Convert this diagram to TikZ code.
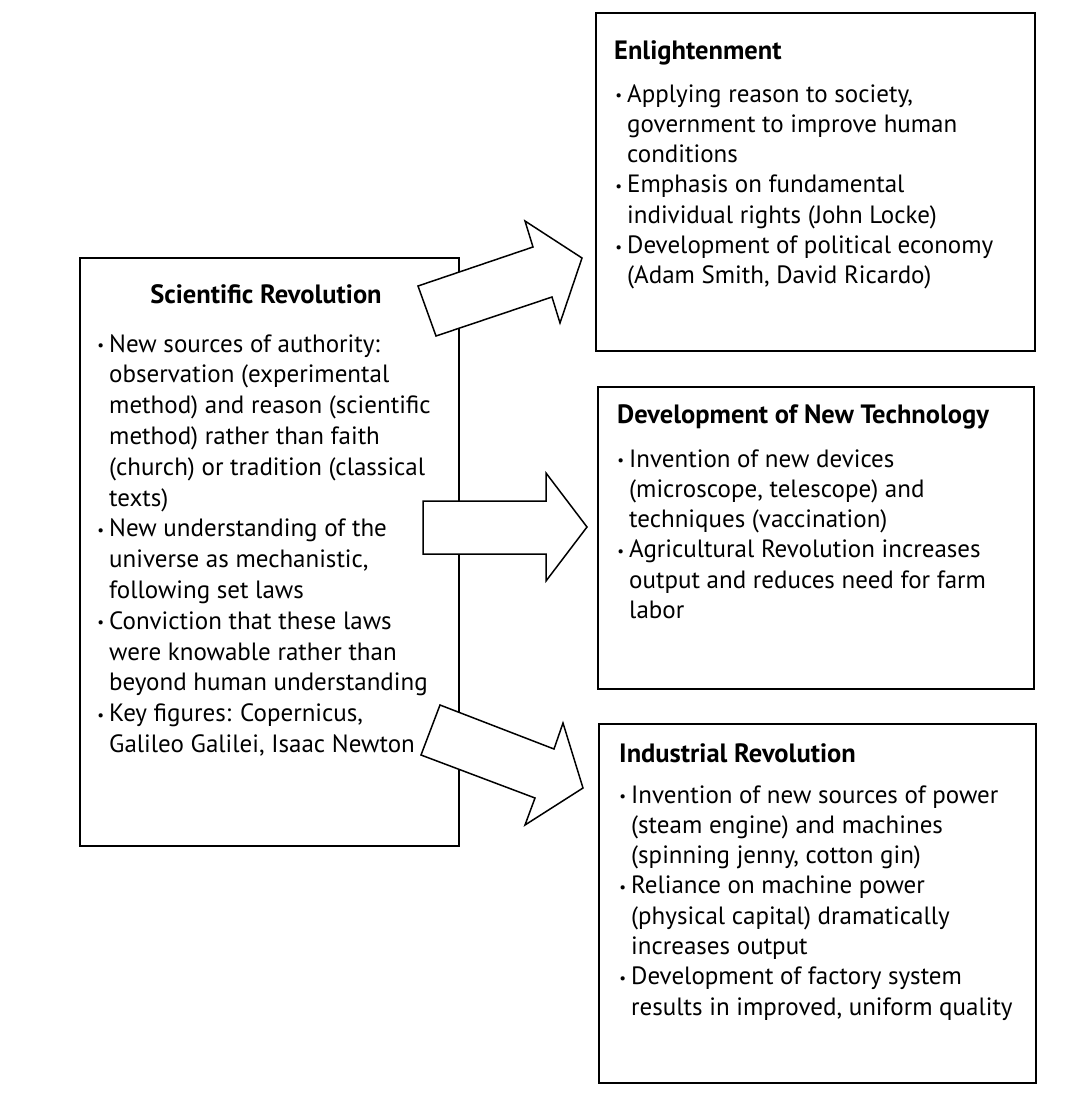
\documentclass[tikz,border=0pt]{standalone}
\usepackage{fontspec}
\setmainfont{PT Sans}
\begin{document}
\begin{tikzpicture}[x=1pt,y=-1pt,
  box/.style={draw=black,line width=1.6pt,fill=none,rectangle,inner sep=0pt,anchor=north west},
  blockarrow/.style={draw=black,line width=1.5pt,fill=white,line join=miter},
  ttl/.style={inner sep=0pt,anchor=base west,font=\fontsize{26.5}{30}\selectfont\bfseries},
  txt/.style={inner sep=0pt,anchor=base west},
]
\newcommand{\bul}{\leavevmode\llap{\raisebox{1.5pt}{\fontsize{15}{15}\selectfont\textbullet}\hspace{5pt}}}
\newcommand{\rtext}[1]{\parbox[t]{420pt}{\fontsize{25}{30.3}\selectfont\raggedright #1}}
\newcommand{\ltext}[1]{\parbox[t]{380pt}{\fontsize{25}{30.8}\selectfont\raggedright #1}}
\useasboundingbox (0,0) rectangle (1078,1120);
\fill[white] (0,0) rectangle (1078,1120);

% boxes
\node[box,minimum width=379pt,minimum height=588pt] (sci) at (79,257) {};
\node[box,minimum width=439pt,minimum height=338pt] (enl) at (595,12) {};
\node[box,minimum width=436pt,minimum height=302pt] (tech) at (597,386) {};
\node[box,minimum width=437pt,minimum height=359pt] (ind) at (598,723) {};

% arrows
\coordinate (a1) at (436,336);
\draw[blockarrow] (a1) -- (418,286) -- (533,247) -- (525,221) -- (582,258) -- (560,323) -- (552,297) -- cycle;
\coordinate (a2) at (423,501);
\draw[blockarrow] (a2) -- (546,501) -- (546,473) -- (587,527) -- (546,581) -- (546,554) -- (423,554) -- cycle;
\coordinate (a3) at (440,705);
\draw[blockarrow] (a3) -- (554,749) -- (563,723) -- (583,788) -- (525,825) -- (535,798) -- (421,755) -- cycle;

% left box text
\node[inner sep=0pt,anchor=base,font=\fontsize{26.5}{30}\selectfont\bfseries] (sciT) at (266,303) {Scientific Revolution};
\node[txt] (sciB) at (109,352) {\ltext{%
\bul New sources of authority:\\
observation (experimental\\
method) and reason (scientific\\
method) rather than faith\\
(church) or tradition (classical\\
texts)\\
\bul New understanding of the\\
universe as mechanistic,\\
following set laws\\
\bul Conviction that these laws\\
were knowable rather than\\
beyond human understanding\\
\bul Key figures: Copernicus,\\
Galileo Galilei, Isaac Newton}};

% enlightenment
\node[ttl] (enlT) at (614,59) {Enlightenment};
\node[txt] (enlB) at (627,102) {\rtext{%
\bul Applying reason to society,\\
government to improve human\\
conditions\\
\bul Emphasis on fundamental\\
individual rights (John Locke)\\
\bul Development of political economy\\
(Adam Smith, David Ricardo)}};

% technology
\node[ttl] (techT) at (617,423) {Development of New Technology};
\node[txt] (techB) at (629,467) {\rtext{%
\bul Invention of new devices\\
(microscope, telescope) and\\
techniques (vaccination)\\
\bul Agricultural Revolution increases\\
output and reduces need for farm\\
labor}};

% industrial
\node[ttl] (indT) at (619,762) {Industrial Revolution};
\node[txt] (indB) at (631,803) {\rtext{%
\bul Invention of new sources of power\\
(steam engine) and machines\\
(spinning jenny, cotton gin)\\
\bul Reliance on machine power\\
(physical capital) dramatically\\
increases output\\
\bul Development of factory system\\
results in improved, uniform quality}};
\end{tikzpicture}
\end{document}
